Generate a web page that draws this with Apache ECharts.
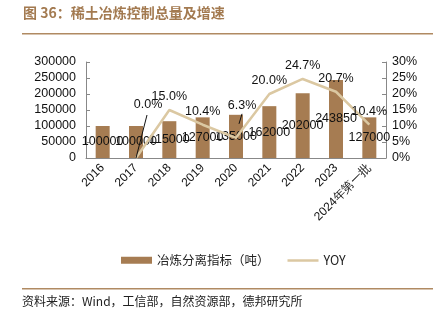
<!DOCTYPE html>
<html><head><meta charset="utf-8">
<script src="https://cdn.jsdelivr.net/npm/echarts@6/dist/echarts.min.js"></script>
<style>html,body{margin:0;padding:0;background:#fff}#c{width:438px;height:328px}</style>
</head><body><div id="c"></div>
<script>
const categories = ['2016','2017','2018','2019','2020','2021','2022','2023','2024年第一批'];
const quota = [100000,100000,115000,127000,135000,162000,202000,243850,127000];
const yoy = [null,0.0,15.0,10.4,6.3,20.0,24.7,20.7,10.4];
const leftTicks = {min:0,max:300000,interval:50000};
const rightTicks = {min:0,max:30,interval:5};

const chart = echarts.init(document.getElementById('c'));
const F = 'Liberation Sans, Arial, sans-serif';
const CJK = '"Noto Sans CJK SC", sans-serif';
const LINE_COLOR = '#dbc8a2';
// label displacement (style) for labels moved away from their points
const moved = {1:{dx:12,dy:-40,from:[0,0],to:[11,-43]}, 4:{dx:6,dy:-19,from:[3,-14],to:[6,-24]}};
const leaderData = Object.keys(moved).map(i=>[Number(i), yoy[i]]);
chart.setOption({
  animation:false,
  textStyle:{fontFamily:F},
  grid:{left:86,right:52,top:62,bottom:170},
  legend:{
    top:249,left:116,itemGap:18,itemWidth:31,itemHeight:7,
    textStyle:{fontFamily:CJK,fontSize:12.5,color:'#222'},
    data:[{name:'冶炼分离指标（吨）',icon:'rect'},
          {name:'YOY',icon:'path://M0,0L0.01,0ZM0,2.5H31V5H0ZM0,7L0.01,7Z',itemStyle:{color:LINE_COLOR}}]
  },
  xAxis:{type:'category',data:categories,
    axisLine:{lineStyle:{color:'#888'}},
    axisTick:{inside:true,length:4,lineStyle:{color:'#888'}},
    axisLabel:{rotate:45,fontSize:12,color:'#111',margin:8,interval:0,fontFamily:F}
  },
  yAxis:[
    {type:'value',min:leftTicks.min,max:leftTicks.max,interval:leftTicks.interval,
     splitLine:{show:false},axisLine:{show:true,lineStyle:{color:'#888'}},
     axisTick:{show:true,inside:true,length:4,lineStyle:{color:'#888'}},
     axisLabel:{fontSize:12.5,color:'#111',margin:10,fontFamily:F,formatter:v=>String(v)}},
    {type:'value',min:rightTicks.min,max:rightTicks.max,interval:rightTicks.interval,
     splitLine:{show:false},axisLine:{show:true,lineStyle:{color:'#888'}},
     axisTick:{show:true,inside:true,length:4,lineStyle:{color:'#888'}},
     axisLabel:{fontSize:12.5,color:'#111',margin:6,fontFamily:F,formatter:v=>v+'%'}}
  ],
  series:[
    {name:'冶炼分离指标（吨）',type:'bar',data:quota,barWidth:14,
     itemStyle:{color:'#a67c52'},
     label:{show:true,position:'inside',color:'#111',fontSize:12.5,fontFamily:F}},
    {name:'YOY',type:'line',yAxisIndex:1,data:yoy.map(v=>v===null?'-':v),
     symbol:'circle',symbolSize:0.1,showSymbol:true,
     lineStyle:{color:LINE_COLOR,width:2.5},itemStyle:{color:LINE_COLOR},
     label:{show:true,position:'top',distance:7,color:'#111',fontSize:12.5,fontFamily:F,
       formatter:p=>Number(p.value).toFixed(1)+'%'},
     labelLayout:function(p){
       const m = moved[p.dataIndex];
       return m ? {dx:m.dx,dy:m.dy} : {};
     }},
    {type:'custom',yAxisIndex:1,data:leaderData,silent:true,z:5,
     renderItem:function(params,api){
       const idx = api.value(0);
       const p = api.coord([idx, api.value(1)]);
       const m = moved[idx];
       return {type:'line',shape:{x1:p[0]+m.from[0],y1:p[1]+m.from[1],x2:p[0]+m.to[0],y2:p[1]+m.to[1]},
         style:{stroke:'#111',lineWidth:1}};
     }}
  ],
  graphic:[
    {type:'text',left:23,top:6,style:{text:'图 36：稀土冶炼控制总量及增速',fill:'#a37a50',font:'bold 14px "Noto Sans CJK SC", sans-serif'}},
    {type:'rect',shape:{x:22,y:33,width:411,height:1.5},style:{fill:'#b08a62'}},
    {type:'rect',shape:{x:22,y:288,width:411,height:1.5},style:{fill:'#b08a62'}},
    {type:'text',left:22,top:295,style:{text:'资料来源：Wind，工信部，自然资源部，德邦研究所',fill:'#222',font:'12px "Noto Sans CJK SC", sans-serif'}}
  ]
});
</script></body></html>
